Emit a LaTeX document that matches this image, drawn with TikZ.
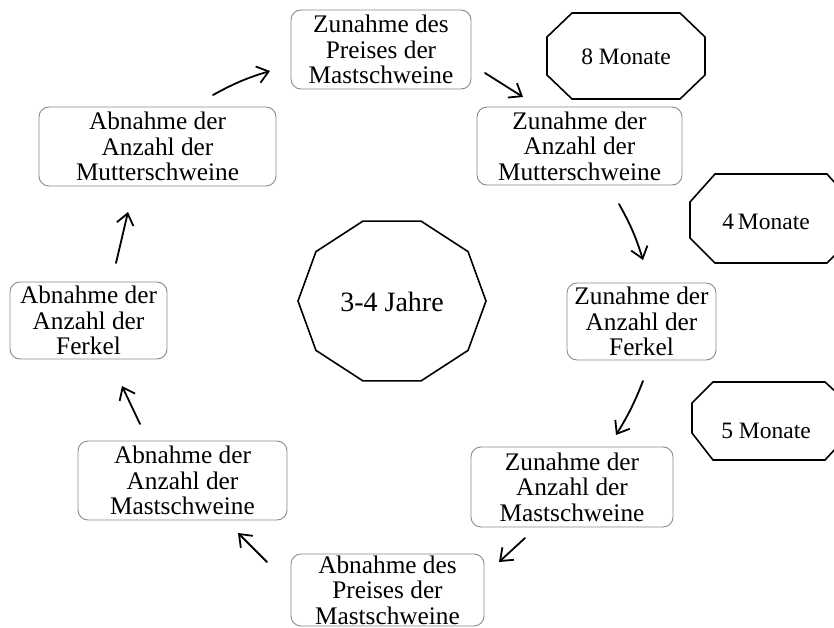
\documentclass[tikz,border=0pt]{standalone}
\usepackage{fontspec}
\setmainfont{Liberation Serif}
\usetikzlibrary{arrows.meta}
\definecolor{boxgray}{HTML}{8A8A8A}
\begin{document}
\begin{tikzpicture}[x=1pt,y=-1pt,
  box/.style={draw=boxgray, line width=0.9pt, rounded corners=10pt, fill=white,
    align=center, inner sep=0pt, font=\fontsize{25.3}{25.5}\selectfont},
  flow/.style={line width=1.8pt, line cap=round,
    -{Straight Barb[length=11pt,width=17pt,line width=1.8pt]}},
  ring/.style={line width=1.6pt, line join=miter},
  period/.style={inner sep=0pt, font=\fontsize{23.5}{26}\selectfont}]
\useasboundingbox (0,0) rectangle (834,628);
\clip (0,0) rectangle (834,628);

% stages of the cycle
\node[box, minimum width=180pt, minimum height=79pt] (p1) at (381,49.5)
  {Zunahme des\\Preises der\\Mastschweine};
\node[box, minimum width=205pt, minimum height=78pt] (m1) at (579.5,146)
  {Zunahme der\\Anzahl der\\Mutterschweine};
\node[box, minimum width=149pt, minimum height=77pt] (f1) at (641.5,321.5)
  {Zunahme der\\Anzahl der\\Ferkel};
\node[box, minimum width=202pt, minimum height=80pt] (s1) at (572,487)
  {Zunahme der\\Anzahl der\\Mastschweine};
\node[box, minimum width=193pt, minimum height=72pt] (p2) at (387.5,590)
  {Abnahme des\\Preises der\\Mastschweine};
\node[box, minimum width=209pt, minimum height=79pt] (s2) at (182.5,480.5)
  {Abnahme der\\Anzahl der\\Mastschweine};
\node[box, minimum width=157pt, minimum height=77pt] (f2) at (88.5,320.5)
  {Abnahme der\\Anzahl der\\Ferkel};
\node[box, minimum width=237pt, minimum height=79pt] (m2) at (157.5,146.5)
  {Abnahme der\\Anzahl der\\Mutterschweine};

% whole cycle length
\draw[ring] plot[samples at={0,36,...,324}] ({392+94*cos(\x)},{301+84*sin(\x)}) -- cycle;
\node[inner sep=0pt, font=\fontsize{28}{30}\selectfont] (cyc) at (392,302) {3-4 Jahre};

% delays between stages
\draw[ring] (572,13) -- (680,13) -- (705,37) -- (705,75) -- (680,99)
  -- (572,99) -- (547,75) -- (547,37) -- cycle;
\node[period] (d8) at (626,57) {8 Monate};
\draw[ring] (715,174) -- (827,174) -- (852,202) -- (852,238) -- (827,263)
  -- (715,263) -- (690,238) -- (690,202) -- cycle;
\node[period] (d4) at (766,222) {4\,Monate};
\draw[ring] (713,382) -- (825,382) -- (850,405) -- (850,433) -- (825,460)
  -- (713,460) -- (692,433) -- (692,403) -- cycle;
\node[period] (d5) at (766,431) {5 Monate};

% arrow ends
\coordinate (a1s) at (213,95);  \coordinate (a1e) at (270,71);
\coordinate (a2s) at (485,73);  \coordinate (a2e) at (523,97);
\coordinate (a3s) at (619,204); \coordinate (a3e) at (643,260);
\coordinate (a4s) at (643,381); \coordinate (a4e) at (616,435);
\coordinate (a5s) at (525,538); \coordinate (a5e) at (499,562);
\coordinate (a6s) at (267,562); \coordinate (a6e) at (238,533);
\coordinate (a7s) at (140,424); \coordinate (a7e) at (122,386);
\coordinate (a8s) at (116,263); \coordinate (a8e) at (128,212);

\draw[flow] (a1s) to[bend left=6] (a1e);
\draw[flow] (a2s) -- (a2e);
\draw[flow] (a3s) to[bend left=6] (a3e);
\draw[flow] (a4s) to[bend left=5] (a4e);
\draw[flow] (a5s) -- (a5e);
\draw[flow] (a6s) -- (a6e);
\draw[flow] (a7s) -- (a7e);
\draw[flow] (a8s) -- (a8e);
\end{tikzpicture}
\end{document}
